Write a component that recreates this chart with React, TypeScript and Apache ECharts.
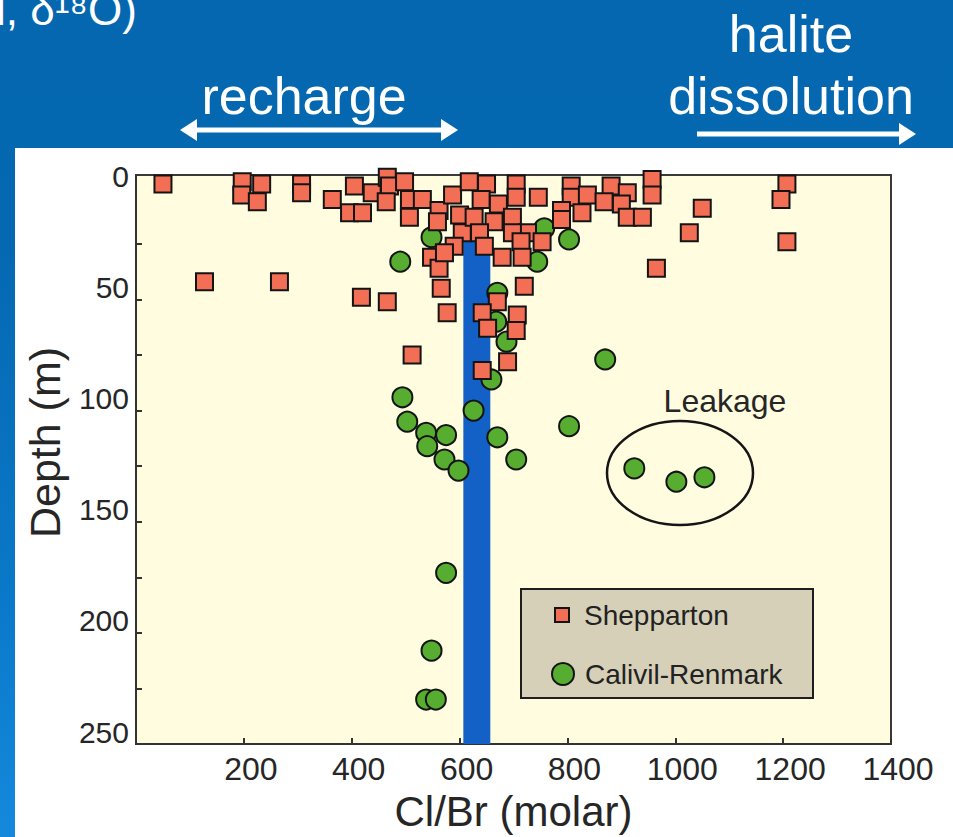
import React, { useEffect, useRef } from 'react';
import * as echarts from 'echarts';

const FONT = '"Liberation Sans", Arial, Helvetica, sans-serif';

// Axis definitions
const xMin = 0;
const xMax = 1400;
const xInterval = 200;
const depthMin = -6;
const depthMax = 250;
const depthLabelValues = [0, 50, 100, 150, 200, 250];
const depthTickValues = [25, 50, 75, 100, 125, 150, 175, 200, 225];

// Series names
const seriesNames = ['Shepparton', 'Calivil-Renmark'];

// [Cl/Br (molar), depth (m)]
const shepparton: [number, number][] = [
  [50, -2], [197, -3], [233, -2], [196, 3], [225, 6], [307, -2], [307, 2], [364, 5],
  [405, -1], [438, 2], [466, -5], [470, -1], [498, -3], [396, 11], [420, 11], [464, 6],
  [507, 5], [531, 5], [507, 13], [562, 10], [559, 15], [587, 3], [618, -3], [600, 12],
  [605, 20], [590, 26], [548, 31], [562, 36], [566, 45], [577, 56], [127, 42], [266, 42],
  [418, 49], [466, 51], [512, 75], [650, -2], [705, -2], [640, 5], [672, 7], [705, 4],
  [746, 4], [807, -1], [807, 4], [837, 3], [881, -1], [911, 2], [900, 7], [868, 6],
  [957, -4], [957, 3], [1207, -2], [1196, 5], [1050, 9], [1026, 20], [1207, 24], [965, 36],
  [627, 13], [664, 15], [698, 13], [726, 20], [698, 20], [789, 10], [789, 14], [827, 11],
  [911, 13], [939, 13], [637, 20], [646, 26], [714, 24], [753, 24], [572, 29], [679, 31],
  [716, 31], [720, 44], [670, 51], [642, 56], [707, 57], [652, 63], [705, 64], [689, 78],
  [642, 82],
];

const calivil: [number, number][] = [
  [548, 22], [490, 33], [757, 18], [803, 23], [744, 33], [670, 47], [668, 60], [687, 69],
  [659, 86], [870, 77], [494, 94], [503, 105], [626, 100], [538, 110], [575, 111], [540, 116],
  [572, 122], [598, 127], [670, 112], [705, 122], [803, 107], [924, 126], [1002, 132], [1054, 130],
  [575, 173], [548, 208], [538, 230], [556, 230],
];

// Seawater Cl/Br reference band
const bandCl = [607, 657];
const bandDepth = [23, 250];

export default function App() {
  const ref = useRef<HTMLDivElement>(null);

  useEffect(() => {
    const chart = echarts.init(ref.current!, null, { renderer: 'svg' });
    const white = '#ffffff';
    const option: any = {
      animation: false,
      backgroundColor: 'transparent',
      textStyle: { fontFamily: FONT },
      grid: {
        left: 136,
        top: 175,
        width: 755,
        height: 570,
        show: true,
        backgroundColor: '#FFFCDF',
        borderColor: '#3a3a3a',
        borderWidth: 2,
      },
      xAxis: {
        type: 'value',
        min: xMin,
        max: xMax,
        interval: xInterval,
        name: 'Cl/Br (molar)',
        nameLocation: 'middle',
        nameGap: 46,
        nameTextStyle: { fontSize: 42, color: '#262626', fontFamily: FONT },
        axisLine: { show: true, onZero: false, lineStyle: { color: '#333', width: 2 } },
        axisTick: { show: true, inside: true, length: 6, lineStyle: { color: '#333', width: 2 } },
        axisLabel: {
          fontSize: 32,
          color: '#262626',
          fontFamily: FONT,
          margin: 9,
          padding: [0, 0, 0, 14],
          formatter: (v: number) => (v === 0 ? '' : String(v)),
        },
        splitLine: { show: false },
      },
      yAxis: {
        type: 'value',
        inverse: true,
        min: depthMin,
        max: depthMax,
        name: 'Depth (m)',
        nameLocation: 'middle',
        nameGap: 70,
        nameTextStyle: { fontSize: 43, color: '#262626', fontFamily: FONT, padding: [0, 0, 0, 34] },
        axisLine: { show: true, onZero: false, lineStyle: { color: '#333', width: 2 } },
        axisTick: {
          show: true,
          inside: true,
          length: 6,
          customValues: depthTickValues,
          lineStyle: { color: '#333', width: 2 },
        },
        axisLabel: {
          fontSize: 30,
          color: '#262626',
          fontFamily: FONT,
          margin: 7,
          verticalAlign: 'bottom',
          lineHeight: 24,
          customValues: depthLabelValues,
        },
        splitLine: { show: false },
      },
      legend: [
        {
          data: [seriesNames[0]],
          left: 554,
          top: 601,
          padding: 0,
          itemWidth: 14,
          itemHeight: 14,
          icon: 'rect',
          z: 5,
          textStyle: { fontSize: 28, color: '#222', fontFamily: FONT, padding: [0, 0, 0, 10] },
        },
        {
          data: [seriesNames[1]],
          left: 551,
          top: 660,
          padding: 0,
          itemWidth: 22,
          itemHeight: 22,
          icon: 'circle',
          z: 5,
          textStyle: { fontSize: 28, color: '#222', fontFamily: FONT, padding: [0, 0, 0, 6] },
        },
      ],
      series: [
        {
          name: seriesNames[1],
          type: 'scatter',
          data: calivil,
          symbol: 'circle',
          symbolSize: 20,
          clip: false,
          z: 2,
          itemStyle: { color: '#57AD2F', borderColor: '#141414', borderWidth: 2, opacity: 1 },
          markArea: {
            silent: true,
            itemStyle: { color: '#1361C6', opacity: 1 },
            data: [[{ xAxis: bandCl[0], yAxis: bandDepth[0] }, { xAxis: bandCl[1], yAxis: bandDepth[1] }]],
          },
        },
        {
          name: seriesNames[0],
          type: 'scatter',
          data: shepparton,
          symbol: 'rect',
          symbolSize: 17,
          clip: false,
          z: 3,
          itemStyle: { color: '#F26F55', borderColor: '#141414', borderWidth: 2, opacity: 1 },
        },
      ],
      graphic: [
        {
          type: 'text',
          x: -4,
          y: 9,
          z: 10,
          style: {
            text: 'l, δ¹⁸O)',
            fill: white,
            font: `44px ${FONT}`,
            textAlign: 'left',
            textVerticalAlign: 'middle',
            shadowColor: 'rgba(0,0,0,0.85)',
            shadowOffsetX: 2,
            shadowOffsetY: 2,
            shadowBlur: 0,
          },
        },
        {
          type: 'text',
          x: 304,
          y: 96,
          z: 10,
          style: { text: 'recharge', fill: white, font: `52px ${FONT}`, textAlign: 'center', textVerticalAlign: 'middle' },
        },
        {
          type: 'text',
          x: 791,
          y: 34,
          z: 10,
          style: { text: 'halite', fill: white, font: `52px ${FONT}`, textAlign: 'center', textVerticalAlign: 'middle' },
        },
        {
          type: 'text',
          x: 791,
          y: 96,
          z: 10,
          style: { text: 'dissolution', fill: white, font: `52px ${FONT}`, textAlign: 'center', textVerticalAlign: 'middle' },
        },
        {
          type: 'line',
          z: 10,
          shape: { x1: 192, y1: 130, x2: 446, y2: 130 },
          style: { stroke: white, lineWidth: 5 },
        },
        {
          type: 'polygon',
          z: 10,
          shape: { points: [[180, 130], [197, 119], [197, 141]] },
          style: { fill: white },
        },
        {
          type: 'polygon',
          z: 10,
          shape: { points: [[458, 130], [441, 119], [441, 141]] },
          style: { fill: white },
        },
        {
          type: 'line',
          z: 10,
          shape: { x1: 697, y1: 134, x2: 902, y2: 134 },
          style: { stroke: white, lineWidth: 5 },
        },
        {
          type: 'polygon',
          z: 10,
          shape: { points: [[916, 134], [899, 123], [899, 145]] },
          style: { fill: white },
        },
        {
          type: 'ellipse',
          z: 6,
          shape: { cx: 680, cy: 473, rx: 73, ry: 52 },
          style: { fill: 'none', stroke: '#151515', lineWidth: 2.5 },
        },
        {
          type: 'text',
          x: 725,
          y: 401,
          z: 6,
          style: { text: 'Leakage', fill: '#262626', font: `32px ${FONT}`, textAlign: 'center', textVerticalAlign: 'middle' },
        },
        {
          type: 'rect',
          z: 3,
          shape: { x: 521, y: 589, width: 292, height: 109 },
          style: { fill: '#D6D0B8', stroke: '#1e1e1e', lineWidth: 2 },
        },
      ],
    };
    chart.setOption(option);
    return () => chart.dispose();
  }, []);

  return (
    <div
      style={{
        position: 'fixed',
        left: 0,
        top: 0,
        width: 953,
        height: 837,
        overflow: 'hidden',
        background: 'linear-gradient(180deg, #0467AF 0%, #0569B2 30%, #0A78C8 70%, #1489DC 100%)',
      }}
    >
      <div style={{ position: 'absolute', left: 15, top: 148, right: 0, bottom: 0, background: '#ffffff' }} />
      <div ref={ref} style={{ position: 'absolute', left: 0, top: 0, width: 953, height: 837 }} />
    </div>
  );
}
